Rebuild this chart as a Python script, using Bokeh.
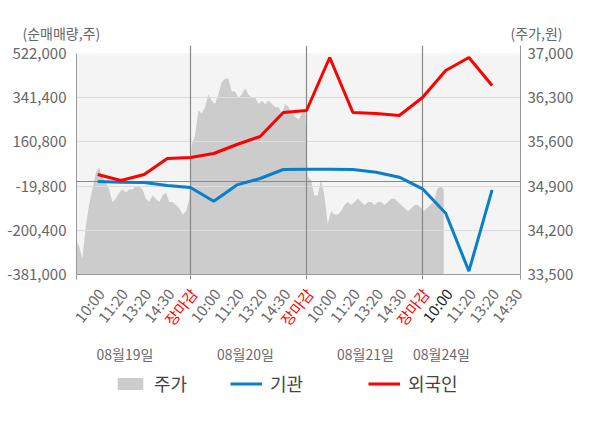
import numpy as np
from bokeh.plotting import figure
from bokeh.layouts import column
from bokeh.models import (Range1d, LinearAxis, FixedTicker, NumeralTickFormatter,
                          CustomJSTickFormatter, ColumnDataSource, LabelSet, Legend, LegendItem)
from bokeh.core.properties import value
from bokeh.embed import file_html
from bokeh.resources import INLINE

FONT = "Noto Sans CJK KR"

# ---------------- data ----------------
tick_labels = ["10:00", "11:20", "13:20", "14:30", "장마감",
               "10:00", "11:20", "13:20", "14:30", "장마감",
               "10:00", "11:20", "13:20", "14:30", "장마감",
               "10:00", "11:20", "13:20", "14:30"]
date_labels = ["08월19일", "08월20일", "08월21일", "08월24일"]
legend_labels = ["주가", "기관", "외국인"]
axis_titles = ["(순매매량,주)", "(주가,원)"]

# net buying (shares) at each tick slot
foreign = [27600, 3000, 27600, 93000, 97000,
           113400, 150200, 182900, 280900, 289100,
           505700, 280900, 276800, 268700, 342200,
           452500, 505700, 391200]
institution = [-1000, -3800, -5000, -17400, -25500,
               -81500, -15000, 11300, 48000, 49300,
               49000, 48000, 37000, 16600, -30800,
               -130500, -367500, -34900]

# intraday stock price (won), one list per trading day
price_day1 = [34050, 33950, 33750, 34250, 34600, 34850, 35100, 35200, 35050, 34950,
              34850, 34650, 34700, 34800, 34850, 34800, 34850, 34850, 34900, 34900,
              34850, 34700, 34650, 34750, 34700, 34650, 34750, 34800, 34650, 34650,
              34600, 34550, 34450, 34500, 34700]
price_day2 = [35550, 35700, 36100, 36050, 36150, 36350, 36250, 36200, 36350, 36550,
              36600, 36600, 36400, 36400, 36300, 36350, 36450, 36350, 36300, 36300,
              36200, 36250, 36200, 36250, 36200, 36150, 36150, 36050, 36200, 36150,
              36050, 36000, 35950, 36050, 36100]
price_day3 = [35050, 35000, 34750, 34750, 35000, 34750, 34300, 34500, 34450, 34450,
              34500, 34600, 34650, 34600, 34650, 34700, 34650, 34600, 34650, 34650,
              34600, 34650, 34650, 34600, 34650, 34700, 34700, 34650, 34600, 34550,
              34500, 34550, 34600, 34600, 34550]
price_day4 = [34500, 34550, 34600, 34650, 34850, 34900, 34850]

left_ticks = [-381000, -200400, -19800, 160800, 341400, 522000]
right_ticks = [33500, 34200, 34900, 35600, 36300, 37000]
close_slots = [4, 9, 14]

# ---------------- layout ----------------
W = 592
TOP_H = 42          # title strip
MAIN_TOP = 3        # main figure border above the frame
EXT = 8             # frame rows above the chart area (separators reach up here)
FH = 221            # chart-area height
MAIN_BOT = 9
BOT_H = 137         # tick-label / legend strip
FL, FR = 76, 520    # frame left / right (page px)
XS, XE = -0.914, 18.224
Y0, Y1 = left_ticks[0], left_ticks[-1]
P0, P1 = right_ticks[0], right_ticks[-1]
BOT_TOP = TOP_H + MAIN_TOP + EXT + FH + MAIN_BOT


def xd(px):
    return XS + (px - FL) / (FR - FL) * (XE - XS)


def strip(height, x_range):
    f = figure(width=W, height=height, x_range=x_range, y_range=Range1d(0, height),
               output_backend="svg", toolbar_location=None,
               x_axis_location=None, y_axis_location=None, frame_align=False,
               min_border_left=0, min_border_right=0, min_border_top=0, min_border_bottom=0)
    f.grid.visible = False
    f.outline_line_color = None
    f.background_fill_color = "white"
    f.border_fill_color = "white"
    return f


# ---------------- title strip ----------------
pt = strip(TOP_H, Range1d(0, W))
pt.text(x=[22], y=[TOP_H - 32], text=[axis_titles[0]], text_align="left",
        text_baseline="middle", text_color="#666666", text_font=value(FONT),
        text_font_size="14px")
pt.text(x=[562], y=[TOP_H - 32], text=[axis_titles[1]], text_align="right",
        text_baseline="middle", text_color="#666666", text_font=value(FONT),
        text_font_size="14px")

# ---------------- main chart ----------------
p = figure(width=W, height=MAIN_TOP + EXT + FH + MAIN_BOT,
           x_range=Range1d(XS, XE),
           y_range=Range1d(Y0, Y1 + EXT * (Y1 - Y0) / FH),
           output_backend="svg", toolbar_location=None, frame_align=False,
           min_border_left=FL, min_border_right=W - FR,
           min_border_top=MAIN_TOP, min_border_bottom=MAIN_BOT)
p.extra_y_ranges = {"price": Range1d(P0, P1 + EXT * (P1 - P0) / FH)}
p.background_fill_color = "white"
p.border_fill_color = "white"
p.outline_line_color = None
p.xgrid.visible = False
p.ygrid.visible = False

# chart-area background
p.quad(left=XS, right=XE, bottom=Y0, top=Y1, fill_color="#f4f4f4", line_color=None)

days = [price_day1, price_day2, price_day3, price_day4]
step = 4.9 / 34
ax, ay = [], []
for d, vals in enumerate(days):
    start = 5 * d - 0.95
    for k, v in enumerate(vals):
        ax.append(start + k * step)
        ay.append(v)
area_src = ColumnDataSource(dict(x=ax, y=ay))
p.varea(x="x", y1=P0, y2="y", source=area_src,
        fill_color="#cccccc", y_range_name="price")

p.hspan(y=left_ticks[1:-1], line_color="#dddddd", line_width=1.2)
p.vspan(x=close_slots, line_color="#888888", line_width=1.2)
p.hspan(y=[0], line_color="#888888", line_width=1.2)

slots = list(range(len(foreign)))
p.line(slots, institution, line_color="#0a7fc9", line_width=3)
p.line(slots, foreign, line_color="#ff0000", line_width=3)

ya = p.yaxis[0]
ya.ticker = FixedTicker(ticks=left_ticks)
ya.formatter = NumeralTickFormatter(format="0,0")
ya.bounds = (Y0, Y1)
ra = LinearAxis(y_range_name="price", ticker=FixedTicker(ticks=right_ticks),
                formatter=NumeralTickFormatter(format="0,0"))
p.add_layout(ra, "right")
for a, st in ((ya, 10), (ra, 7)):
    a.axis_line_color = "#999999"
    a.major_tick_line_color = None
    a.major_tick_out = 0
    a.major_tick_in = 0
    a.minor_tick_line_color = None
    a.major_label_text_font = FONT
    a.major_label_text_font_size = "15px"
    a.major_label_text_color = "#666666"
    a.major_label_standoff = st

xa = p.xaxis[0]
xa.ticker = FixedTicker(ticks=[XS + 0.002] + close_slots + [XE - 0.002])
xa.formatter = CustomJSTickFormatter(code="return ''")
xa.axis_line_color = "#999999"
xa.major_tick_line_color = "#999999"
xa.major_tick_out = 5
xa.major_tick_in = 0
xa.minor_tick_line_color = None
xa.major_label_standoff = 0

# ---------------- tick-label / legend strip ----------------
pb = strip(BOT_H, Range1d(xd(0), xd(W)))


def yb(py):
    return BOT_TOP + BOT_H - py


colors = []
for i, t in enumerate(tick_labels):
    if t == "장마감":
        colors.append("#ff0000")
    elif i == 15:
        colors.append("#222222")
    else:
        colors.append("#6a6a6a")
lab_src = ColumnDataSource(dict(x=list(range(len(tick_labels))),
                                y=[yb(290)] * len(tick_labels),
                                text=tick_labels, color=colors))
pb.add_layout(LabelSet(x="x", y="y", text="text", source=lab_src, angle=0.9,
                       x_offset=3, text_align="right", text_baseline="middle",
                       text_color="color", text_font=value(FONT), text_font_size="15px"))

date_src = ColumnDataSource(dict(x=[xd(124.5), xd(245), xd(365), xd(441)],
                                 y=[yb(353)] * 4, text=date_labels))
pb.add_layout(LabelSet(x="x", y="y", text="text", source=date_src,
                       text_align="center", text_baseline="middle",
                       text_color="#6a6a6a", text_font=value(FONT), text_font_size="14px"))

# legend-only renderers (their data sit outside the visible strip)
off = [-1000, -1000]
leg_area = pb.varea(x=[0, 1], y1=off, y2=[-999, -999], fill_color="#cccccc")
leg_inst = pb.line([0, 1], off, line_color="#0a7fc9", line_width=3)
leg_for = pb.line([0, 1], off, line_color="#ff0000", line_width=3)
for lbl, rend, px in zip(legend_labels, [leg_area, leg_inst, leg_for], [114, 230, 368]):
    leg = Legend(items=[LegendItem(label=lbl, renderers=[rend])],
                 location=(px, yb(396)),
                 orientation="horizontal", padding=0, margin=0,
                 border_line_color=None, background_fill_alpha=0,
                 glyph_width=32, glyph_height=15, label_standoff=8,
                 label_height=22,
                 label_text_font=FONT, label_text_font_size="18px",
                 label_text_color="#444444")
    pb.add_layout(leg)

layout = column(pt, p, pb, spacing=0)
open("out.html", "w").write(file_html(layout, INLINE))
